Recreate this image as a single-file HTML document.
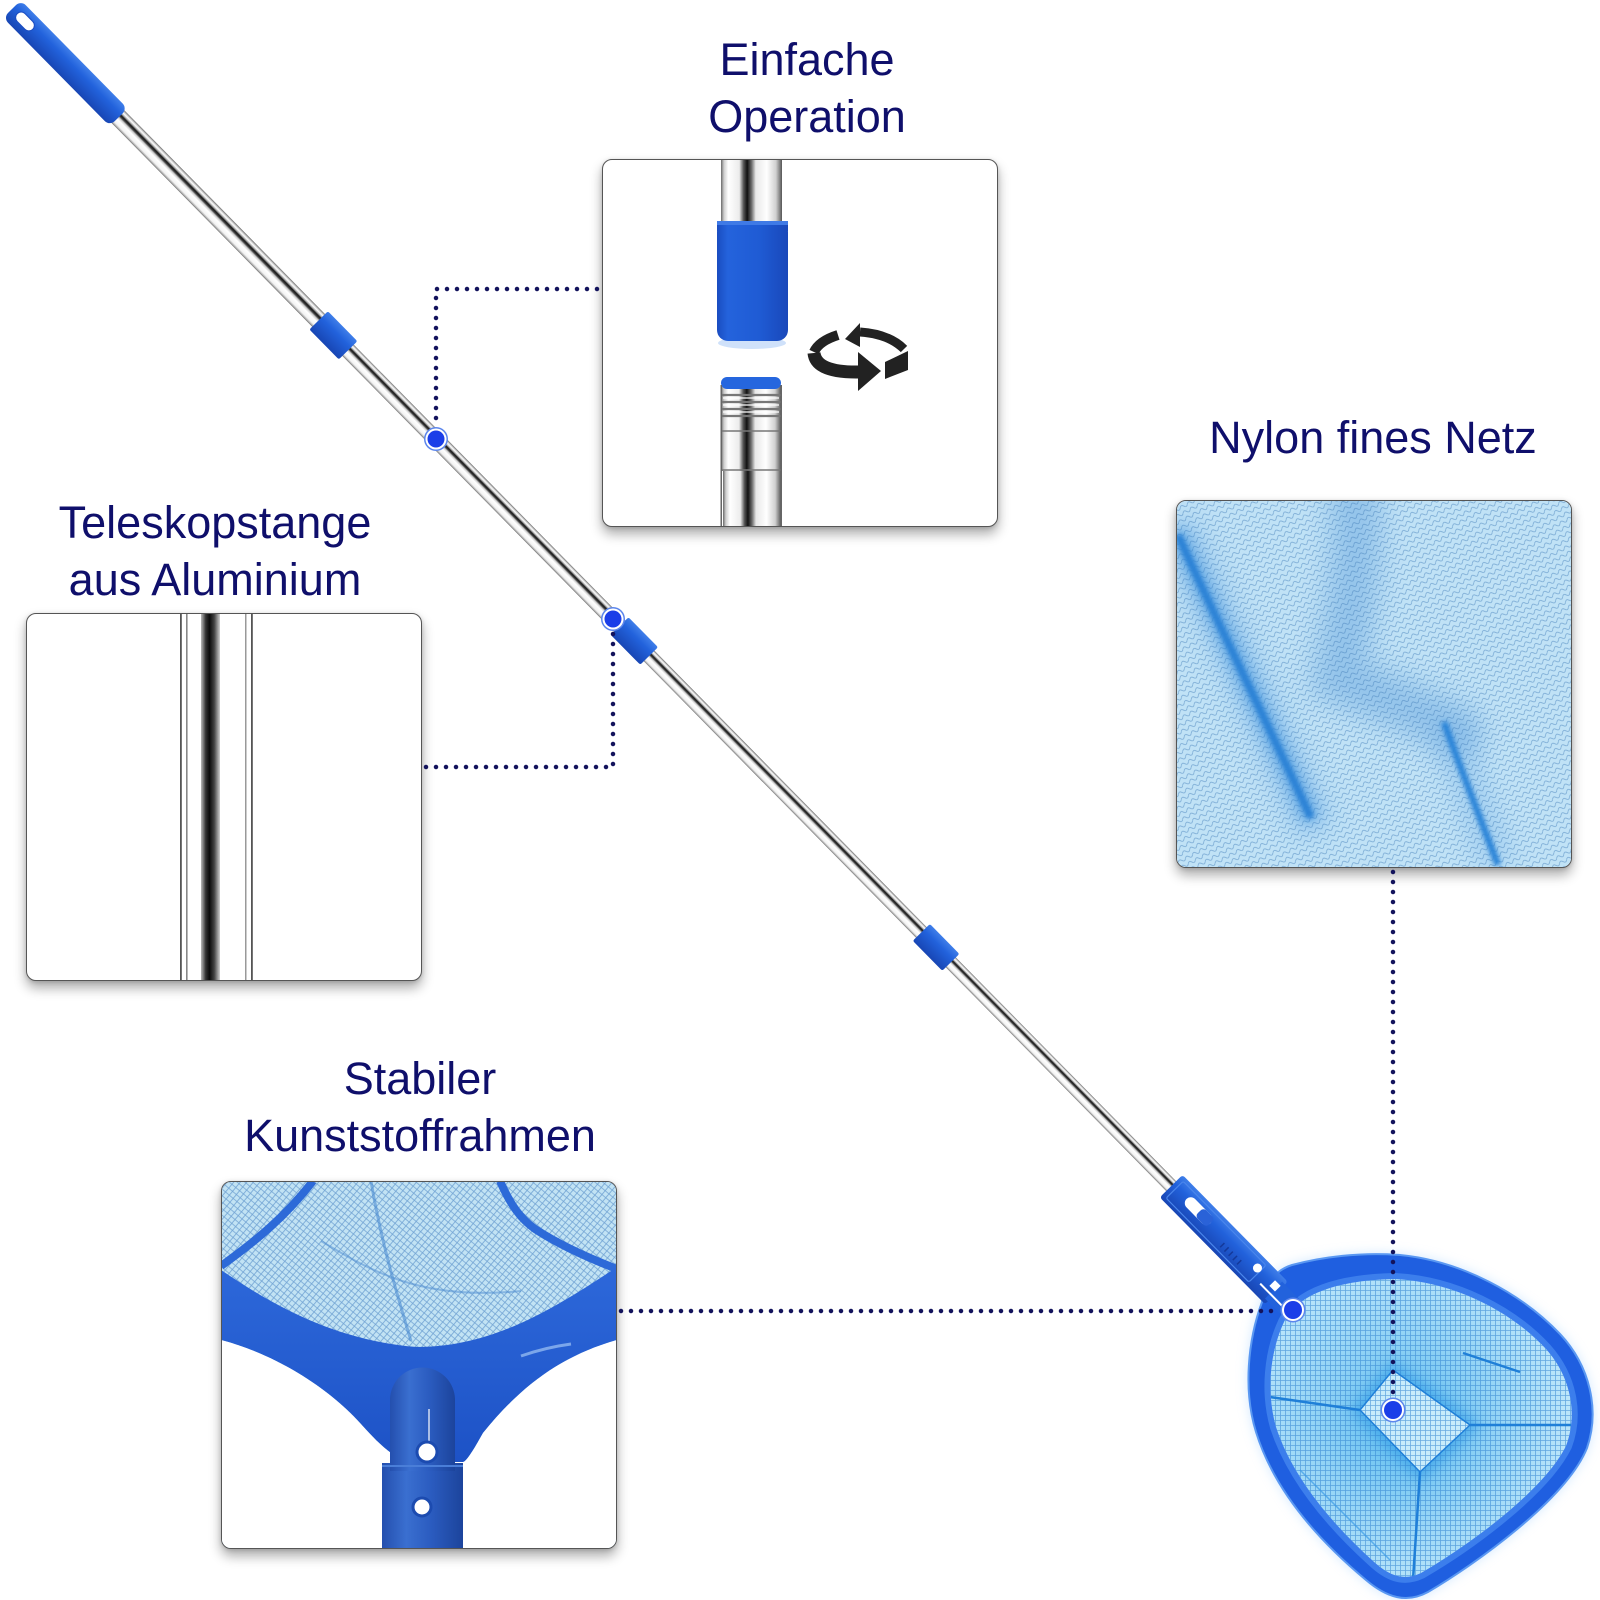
<!DOCTYPE html>
<html><head><meta charset="utf-8">
<style>
html,body{margin:0;padding:0;background:#fff;}
body{width:1600px;height:1600px;position:relative;overflow:hidden;font-family:"Liberation Sans",Arial,sans-serif;}
.box{position:absolute;width:396px;height:368px;border:1.5px solid #555;border-radius:10px;box-shadow:0 7px 12px rgba(0,0,0,0.33),0 1px 4px rgba(0,0,0,0.15);overflow:hidden;background:#fff;box-sizing:border-box;}
.box svg{position:absolute;left:-1.5px;top:-1.5px;}
.t{position:absolute;color:#0f0f6b;font-size:45px;line-height:57px;text-align:center;white-space:nowrap;}
#main{position:absolute;left:0;top:0;}
</style></head><body>

<!-- Titles -->
<div class="t" style="left:607px;top:31px;width:400px;">Einfache<br>Operation</div>
<div class="t" style="left:15px;top:494px;width:400px;">Teleskopstange<br>aus Aluminium</div>
<div class="t" style="left:1173px;top:409px;width:400px;">Nylon fines Netz</div>
<div class="t" style="left:220px;top:1050px;width:400px;">Stabiler<br>Kunststoffrahmen</div>

<!-- Box A: Einfache Operation -->
<div class="box" style="left:602px;top:159px;">
<svg width="396" height="368" viewBox="0 0 396 368">
<defs>
<linearGradient id="sv" x1="0" y1="0" x2="1" y2="0">
<stop offset="0" stop-color="#6a6a6a"/><stop offset=".05" stop-color="#cfcfcf"/><stop offset=".12" stop-color="#fff"/>
<stop offset=".3" stop-color="#ececec"/><stop offset=".37" stop-color="#555"/><stop offset=".43" stop-color="#111"/>
<stop offset=".5" stop-color="#6a6a6a"/><stop offset=".57" stop-color="#e8e8e8"/><stop offset=".75" stop-color="#fff"/>
<stop offset=".9" stop-color="#d0d0d0"/><stop offset=".96" stop-color="#888"/><stop offset="1" stop-color="#555"/>
</linearGradient>
<linearGradient id="bs" x1="0" y1="0" x2="1" y2="0">
<stop offset="0" stop-color="#1a4cc0"/><stop offset=".15" stop-color="#2463dc"/><stop offset=".6" stop-color="#1f5bd4"/><stop offset="1" stop-color="#1948ba"/>
</linearGradient>
</defs>
<rect x="119" y="-5" width="61" height="72" fill="url(#sv)"/>
<ellipse cx="150" cy="184" rx="34" ry="6" fill="#9fc3f5" opacity=".5"/>
<rect x="115" y="62" width="71" height="120" rx="11" fill="url(#bs)"/>
<rect x="115" y="62" width="71" height="10" fill="url(#bs)"/>
<rect x="115" y="62" width="71" height="4" fill="#3f7ae6"/>
<rect x="119" y="226" width="60" height="46" fill="url(#sv)"/>
<g stroke="#777" stroke-width="2.2">
<line x1="119" y1="236" x2="179" y2="236"/><line x1="119" y1="243" x2="179" y2="243"/>
<line x1="119" y1="250" x2="179" y2="250"/><line x1="119" y1="257" x2="179" y2="257"/>
</g>
<g stroke="#fff" stroke-width="1.2">
<line x1="121" y1="239" x2="177" y2="239"/><line x1="121" y1="246" x2="177" y2="246"/>
<line x1="121" y1="253" x2="177" y2="253"/>
</g>
<rect x="119" y="218" width="60" height="12" rx="6" fill="#2566de"/>
<rect x="119" y="272" width="60" height="40" fill="url(#sv)"/>
<line x1="119" y1="272" x2="179" y2="272" stroke="#777" stroke-width="1.5"/>
<line x1="119" y1="311" x2="179" y2="311" stroke="#777" stroke-width="1.5"/>
<rect x="121" y="312" width="58" height="60" fill="url(#sv)"/>
<rect x="118.5" y="226" width="1.5" height="142" fill="#666"/>
<rect x="178.5" y="226" width="1.5" height="142" fill="#666"/>
<g fill="#222" stroke="#222">
<path d="M258,173 Q287,175 302,190" fill="none" stroke-width="9"/>
<polygon points="258,164 258,188 243,180" stroke="none"/>
<path d="M236,176 Q217,182 212,193" fill="none" stroke-width="10"/>
<path d="M212,194 Q214,214 258,213" fill="none" stroke-width="13"/>
<polygon points="256,193 256,232 279,212" stroke="none"/>
<polygon points="283,203 306,192 306,211 283,220" stroke="none"/>
</g>
</svg>
</div>

<!-- Box B: Teleskopstange -->
<div class="box" style="left:26px;top:613px;">
<svg width="396" height="368" viewBox="0 0 396 368">
<defs>
<linearGradient id="db" x1="0" y1="0" x2="1" y2="0">
<stop offset="0" stop-color="#bbb"/><stop offset=".25" stop-color="#333"/><stop offset=".45" stop-color="#0a0a0a"/><stop offset=".7" stop-color="#444"/><stop offset="1" stop-color="#d0d0d0"/>
</linearGradient>
</defs>
<rect x="154" y="0" width="1.8" height="368" fill="#555"/>
<rect x="160" y="0" width="1.6" height="368" fill="#888"/>
<rect x="175" y="0" width="19" height="368" fill="url(#db)"/>
<rect x="219" y="0" width="1.5" height="368" fill="#999"/>
<rect x="225" y="0" width="1.8" height="368" fill="#555"/>
</svg>
</div>

<!-- Box C: Nylon net -->
<div class="box" style="left:1176px;top:500px;">
<svg width="396" height="368" viewBox="0 0 396 368">
<defs>
<pattern id="wv" width="8" height="6" patternUnits="userSpaceOnUse" patternTransform="rotate(-28)">
<path d="M0,3 Q2,0 4,3 T8,3" fill="none" stroke="#3f7cb8" stroke-width=".7" opacity=".6"/>
</pattern>
<filter id="b14" filterUnits="userSpaceOnUse" x="-100" y="-100" width="600" height="570"><feGaussianBlur stdDeviation="14"/></filter>
<filter id="b8" filterUnits="userSpaceOnUse" x="-100" y="-100" width="600" height="570"><feGaussianBlur stdDeviation="7"/></filter>
<filter id="b3" filterUnits="userSpaceOnUse" x="-100" y="-100" width="600" height="570"><feGaussianBlur stdDeviation="2.2"/></filter>
</defs>
<rect width="396" height="368" fill="#c0e2f6"/>
<path d="M178,-10 C185,60 172,120 162,178 C200,195 240,208 282,232" fill="none" stroke="#5d9fdc" stroke-width="50" stroke-linecap="round" opacity=".45" filter="url(#b14)"/>
<path d="M0,25 L140,330" stroke="#4f9ae2" stroke-width="34" opacity=".4" filter="url(#b14)"/>
<path d="M270,225 L322,365" stroke="#4f9ae2" stroke-width="26" opacity=".35" filter="url(#b14)"/>
<rect width="396" height="368" fill="url(#wv)"/>
<path d="M0,30 C40,118 90,220 136,320" fill="none" stroke="#3a8fdc" stroke-width="16" opacity=".6" filter="url(#b8)"/>
<path d="M2,35 C40,120 90,220 135,318" fill="none" stroke="#2a82d6" stroke-width="8" filter="url(#b3)"/>
<path d="M268,222 C285,270 305,320 322,365" fill="none" stroke="#2a84d8" stroke-width="7" filter="url(#b3)"/>
</svg>
</div>

<!-- Box D: Stabiler Kunststoffrahmen -->
<div class="box" style="left:221px;top:1181px;">
<svg width="396" height="368" viewBox="0 0 396 368">
<defs>
<pattern id="gd" width="5" height="5" patternUnits="userSpaceOnUse" patternTransform="rotate(40)">
<path d="M0,.5H5M.5,0V5" stroke="#3a78bd" stroke-width=".8" fill="none" opacity=".6"/>
</pattern>
<linearGradient id="bb" x1="0" y1="0" x2="0" y2="1">
<stop offset="0" stop-color="#2d68da"/><stop offset="1" stop-color="#1d52c6"/>
</linearGradient>
<linearGradient id="tb" x1="0" y1="0" x2="1" y2="0">
<stop offset="0" stop-color="#244fae"/><stop offset=".3" stop-color="#3a6fd0"/><stop offset=".6" stop-color="#2b5cc0"/><stop offset="1" stop-color="#1c449c"/>
</linearGradient>
</defs>
<rect width="396" height="368" fill="#c2e3f4"/>
<rect width="396" height="368" fill="url(#gd)"/>
<path d="M150,0 C160,60 175,110 190,160" stroke="#4a8ad0" stroke-width="3" fill="none" opacity=".6"/>
<path d="M100,60 C150,90 200,120 300,110" stroke="#4a8ad0" stroke-width="2" fill="none" opacity=".5"/>
<path d="M0,85 C35,60 65,35 92,0" stroke="#2d6ad8" stroke-width="8" fill="none"/>
<path d="M279,0 C290,25 300,38 314,48 C340,65 370,78 396,88" stroke="#2d6ad8" stroke-width="8" fill="none"/>
<path d="M0,89 C60,130 120,160 196,166 C270,166 330,130 396,86 L396,159 C340,175 300,205 262,252 C252,270 245,281 242,281 L186,281 C170,275 155,260 139,242 C110,210 60,175 0,159 Z" fill="url(#bb)"/>
<path d="M300,175 C320,168 335,165 350,163" stroke="#9fc4f5" stroke-width="3" fill="none" opacity=".7"/>
<path d="M0,159 C60,175 110,210 139,242 C155,260 170,275 186,281 L242,281 C245,281 252,270 262,252 C300,205 340,175 396,159 L396,370 L0,370 Z" fill="#fff"/>
<rect x="161" y="282" width="81" height="90" fill="url(#tb)"/>
<path d="M169,290 L169,219 A32.5,32.5 0 0 1 234,219 L234,290 Z" fill="url(#tb)"/>
<line x1="208" y1="228" x2="208" y2="268" stroke="#fff" stroke-width="2" opacity=".6"/>
<line x1="161" y1="285" x2="242" y2="285" stroke="#4a7ed8" stroke-width="2"/>
<circle cx="206" cy="271" r="10" fill="#fff" stroke="#1c4bb0" stroke-width="3"/>
<circle cx="201" cy="326" r="9" fill="#fff" stroke="#1c4bb0" stroke-width="3"/>
</svg>
</div>

<!-- Main drawing -->
<svg id="main" width="1600" height="1600" viewBox="0 0 1600 1600">
<defs>
<linearGradient id="silver" x1="0" y1="0" x2="0" y2="1">
<stop offset="0" stop-color="#666"/><stop offset=".08" stop-color="#ccc"/><stop offset=".16" stop-color="#fff"/>
<stop offset=".25" stop-color="#aaa"/><stop offset=".33" stop-color="#151515"/><stop offset=".42" stop-color="#444"/>
<stop offset=".5" stop-color="#ccc"/><stop offset=".62" stop-color="#fff"/><stop offset=".85" stop-color="#f2f2f2"/>
<stop offset=".95" stop-color="#aaa"/><stop offset="1" stop-color="#666"/>
</linearGradient>
<linearGradient id="blue" x1="0" y1="0" x2="0" y2="1">
<stop offset="0" stop-color="#3f7ee9"/><stop offset=".35" stop-color="#2262dc"/><stop offset="1" stop-color="#1846b4"/>
</linearGradient>
<pattern id="grid" width="5" height="5" patternUnits="userSpaceOnUse">
<path d="M0,.5H5M.5,0V5" stroke="#2b7fcf" stroke-width=".8" fill="none" opacity=".6"/>
</pattern>
<radialGradient id="meshg" cx="1405" cy="1425" r="190" gradientUnits="userSpaceOnUse">
<stop offset="0" stop-color="#5cbcf0"/><stop offset=".45" stop-color="#90d2f5"/><stop offset="1" stop-color="#c9ecfc"/>
</radialGradient>
<filter id="blur6" filterUnits="userSpaceOnUse" x="1100" y="1100" width="500" height="500"><feGaussianBlur stdDeviation="6"/></filter>
<clipPath id="mc"><path d="M1284,1322 C1298,1293 1340,1280 1395,1279 C1455,1282 1512,1312 1546,1349 C1571,1377 1578,1414 1566,1446 C1543,1492 1466,1547 1421,1573 C1402,1582 1387,1574 1373,1561 C1330,1522 1292,1476 1276,1427 C1266,1392 1270,1352 1284,1322 Z"/></clipPath>
</defs>

<!-- Net frame -->
<path d="M1262,1302 C1264,1284 1276,1270 1292,1265 C1322,1257 1360,1252 1400,1255 C1462,1261 1522,1294 1560,1334 C1590,1366 1600,1410 1587,1448 C1566,1500 1474,1565 1428,1592 C1406,1604 1386,1597 1366,1580 C1318,1540 1274,1490 1256,1432 C1243,1390 1248,1340 1262,1302 Z" fill="#a9d3ff" opacity=".6" filter="url(#blur6)"/>
<path d="M1262,1302 C1264,1284 1276,1270 1292,1265 C1322,1257 1360,1252 1400,1255 C1462,1261 1522,1294 1560,1334 C1590,1366 1600,1410 1587,1448 C1566,1500 1474,1565 1428,1592 C1406,1604 1386,1597 1366,1580 C1318,1540 1274,1490 1256,1432 C1243,1390 1248,1340 1262,1302 Z" fill="#1f5fe0" stroke="#5a98f2" stroke-width="2"/>
<path d="M1284,1322 C1298,1293 1340,1280 1395,1279 C1455,1282 1512,1312 1546,1349 C1571,1377 1578,1414 1566,1446 C1543,1492 1466,1547 1421,1573 C1402,1582 1387,1574 1373,1561 C1330,1522 1292,1476 1276,1427 C1266,1392 1270,1352 1284,1322 Z" fill="none" stroke="#3c7eec" stroke-width="12"/>
<g clip-path="url(#mc)">
<rect x="1240" y="1250" width="360" height="350" fill="url(#meshg)"/>
<path d="M1393,1370 L1470,1425 L1420,1472 L1360,1410 Z" fill="none" stroke="#2f9ae6" stroke-width="14" opacity=".6" filter="url(#blur6)"/>
<polygon points="1393,1370 1470,1425 1420,1472 1360,1410" fill="#c8ecfb"/>
<rect x="1240" y="1250" width="360" height="350" fill="url(#grid)"/>
<g stroke="#1f7fd8" stroke-width="2.5" fill="none">
<path d="M1360,1410 L1270,1397"/>
<path d="M1420,1472 L1413,1580"/>
<path d="M1470,1425 L1575,1425"/>
<path d="M1463,1353 L1520,1372"/>
<polygon points="1393,1370 1470,1425 1420,1472 1360,1410" stroke-width="1.5"/>
</g>
<path d="M1300,1470 C1330,1500 1360,1530 1390,1560" stroke="#3a9ae6" stroke-width="1.5" fill="none" opacity=".7"/>
</g>

<!-- Pole -->
<g transform="translate(12,9) rotate(45.44)">
<rect x="150" y="-9" width="310" height="18" fill="url(#silver)"/>
<rect x="478" y="-8" width="390" height="16" fill="url(#silver)"/>
<rect x="906" y="-7.5" width="392" height="15" fill="url(#silver)"/>
<rect x="1336" y="-7" width="322" height="14" fill="url(#silver)"/>
<rect x="0" y="-12.5" width="152" height="25" rx="7" fill="url(#blue)"/>
<rect x="7" y="-6" width="22" height="11" rx="5.5" fill="#fff" stroke="#1a4cc0" stroke-width="1"/>
<rect x="437" y="-13" width="42" height="26" rx="2" fill="url(#blue)"/>
<rect x="866" y="-12.5" width="42" height="25" rx="2" fill="url(#blue)"/>
<rect x="1296" y="-12" width="42" height="24" rx="2" fill="url(#blue)"/>
<rect x="1652" y="-16" width="150" height="32" rx="3" fill="url(#blue)"/>
<rect x="1798" y="-12" width="30" height="24" fill="#2262dc"/>
<rect x="1657" y="-12" width="118" height="24" rx="2" fill="none" stroke="#4a86ec" stroke-width="1.2"/>
<rect x="1672" y="-8" width="34" height="12" rx="6" fill="#fff"/>
<rect x="1690" y="-8" width="16" height="12" rx="4" fill="#2a62d8"/>
<g stroke="#14399a" stroke-width="1.5">
<line x1="1730" y1="2" x2="1730" y2="8"/><line x1="1736" y1="2" x2="1736" y2="8"/>
<line x1="1742" y1="2" x2="1742" y2="8"/><line x1="1748" y1="2" x2="1748" y2="8"/>
<line x1="1754" y1="2" x2="1754" y2="8"/>
</g>
<circle cx="1771" cy="-4" r="4.5" fill="#fff"/>
<line x1="1784" y1="5" x2="1822" y2="5" stroke="#fff" stroke-width="2"/>
<rect x="1792" y="-8" width="8" height="8" fill="#fff"/>
</g>

<!-- Dotted connectors -->
<g fill="none" stroke="#13135c" stroke-width="4.5" stroke-dasharray="0 10" stroke-linecap="round">
<path d="M597,289 L436,289 L436,428"/>
<path d="M426,767 L613,767 L613,630"/>
<path d="M1393,872 L1393,1398"/>
<path d="M621,1311 L1279,1311"/>
</g>

<!-- Blue markers -->
<g>
<circle cx="436" cy="439" r="12" fill="#5c86ec"/><circle cx="436" cy="439" r="10.5" fill="#fff"/><circle cx="436" cy="439" r="8.5" fill="#1b3ee8"/>
<circle cx="613" cy="619" r="12" fill="#5c86ec"/><circle cx="613" cy="619" r="10.5" fill="#fff"/><circle cx="613" cy="619" r="8.5" fill="#1b3ee8"/>
<circle cx="1293" cy="1310" r="12.5" fill="#5c86ec"/><circle cx="1293" cy="1310" r="11" fill="#fff"/><circle cx="1293" cy="1310" r="9" fill="#1b3ee8"/>
<circle cx="1393" cy="1410" r="12.5" fill="#5c86ec"/><circle cx="1393" cy="1410" r="11" fill="#fff"/><circle cx="1393" cy="1410" r="9" fill="#1b3ee8"/>
</g>
</svg>
</body></html>
